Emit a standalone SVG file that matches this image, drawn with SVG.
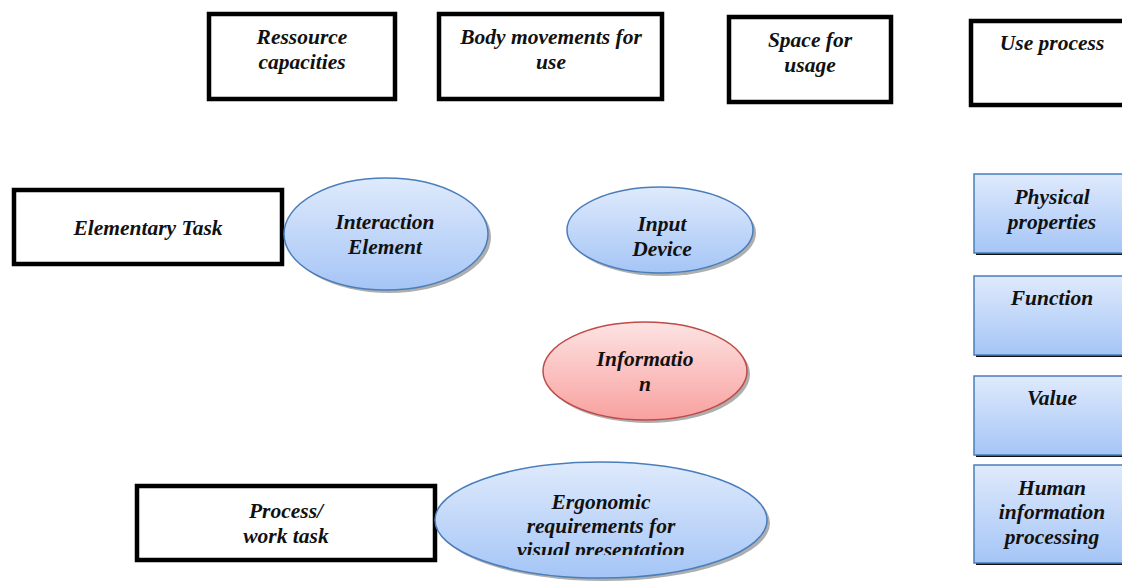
<svg xmlns="http://www.w3.org/2000/svg" width="1122" height="582" viewBox="0 0 1122 582">
<defs>
<linearGradient id="gBlue" x1="0" y1="0" x2="0" y2="1">
<stop offset="0" stop-color="#dfeafc"/>
<stop offset="1" stop-color="#a5c5f6"/>
</linearGradient>
<linearGradient id="gRed" x1="0" y1="0" x2="0" y2="1">
<stop offset="0" stop-color="#fde3e3"/>
<stop offset="1" stop-color="#f8a19f"/>
</linearGradient>
<clipPath id="ergClip"><rect x="430" y="455" width="345" height="100"/></clipPath>
</defs>
<style>
.t{font-family:"Liberation Serif","Times New Roman",serif;font-size:21.5px;font-weight:bold;font-style:italic;fill:#111;text-anchor:middle}
.bx{fill:#fff;stroke:#000;stroke-width:4.5}
.el{fill:url(#gBlue);stroke:#4a7ebb;stroke-width:1.5}
.elr{fill:url(#gRed);stroke:#be4b48;stroke-width:1.5}
.sh{fill:#9a9a9a;opacity:0.8}
.rb{fill:url(#gBlue);stroke:#4a7ebb;stroke-width:1.5}
.rbs{fill:#111}
</style>
<rect width="1122" height="582" fill="#fff"/>
<g id="connectors"></g>
<g id="ressource"><rect class="bx" x="209" y="14" width="186" height="85"/><text class="t" x="302" y="44">Ressource</text><text class="t" x="302" y="69">capacities</text></g>
<g id="body"><rect class="bx" x="439" y="14" width="223" height="85"/><text class="t" x="551" y="44">Body movements for</text><text class="t" x="551" y="69">use</text></g>
<g id="space"><rect class="bx" x="729" y="17" width="162" height="85"/><text class="t" x="810" y="47">Space for</text><text class="t" x="810" y="72">usage</text></g>
<g id="useprocess"><rect class="bx" x="971" y="21" width="160" height="84"/><text class="t" x="1052" y="50">Use process</text></g>
<g id="elementary"><rect class="bx" x="14" y="190" width="268" height="74"/><text class="t" x="148" y="235">Elementary Task</text></g>
<g id="process"><rect class="bx" x="137" y="486" width="298" height="74"/><text class="t" x="286" y="518">Process/</text><text class="t" x="286" y="543">work task</text></g>
<g id="interaction"><ellipse class="sh" cx="389" cy="237" rx="102" ry="56"/><ellipse class="el" cx="386" cy="234" rx="102" ry="56"/><text class="t" x="385" y="229">Interaction</text><text class="t" x="385" y="254">Element</text></g>
<g id="input"><ellipse class="sh" cx="663" cy="233" rx="93" ry="43"/><ellipse class="el" cx="660" cy="230" rx="93" ry="43"/><text class="t" x="662" y="231">Input</text><text class="t" x="662" y="256">Device</text></g>
<g id="information"><ellipse class="sh" cx="648" cy="374" rx="102" ry="49"/><ellipse class="elr" cx="645" cy="371" rx="102" ry="49"/><text class="t" x="645" y="366">Informatio</text><text class="t" x="645" y="391">n</text></g>
<g id="ergonomic"><ellipse class="sh" cx="604" cy="523" rx="166" ry="58"/><ellipse class="el" cx="601" cy="520" rx="166" ry="58"/><g clip-path="url(#ergClip)"><text class="t" x="601" y="509">Ergonomic</text><text class="t" x="601" y="533">requirements for</text><text class="t" x="601" y="557">visual presentation</text></g></g>
<g id="physical"><rect class="rbs" x="976" y="176" width="150" height="79"/><rect class="rb" x="974" y="174" width="152" height="79"/><text class="t" x="1052" y="204">Physical</text><text class="t" x="1052" y="229">properties</text></g>
<g id="function"><rect class="rbs" x="976" y="278" width="150" height="79"/><rect class="rb" x="974" y="276" width="152" height="79"/><text class="t" x="1052" y="305">Function</text></g>
<g id="value"><rect class="rbs" x="976" y="378" width="150" height="79"/><rect class="rb" x="974" y="376" width="152" height="79"/><text class="t" x="1052" y="405">Value</text></g>
<g id="human"><rect class="rbs" x="976" y="467" width="150" height="98"/><rect class="rb" x="974" y="465" width="152" height="98"/><text class="t" x="1052" y="495">Human</text><text class="t" x="1052" y="519">information</text><text class="t" x="1052" y="544">processing</text></g>
</svg>
